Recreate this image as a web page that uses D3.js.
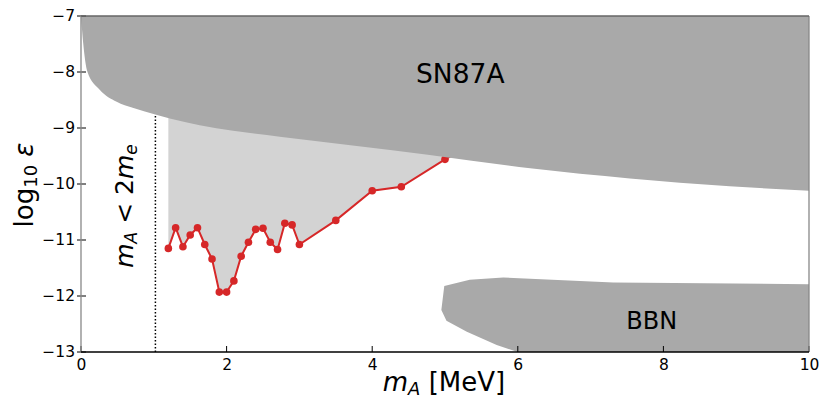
<!DOCTYPE html>
<html>
<head>
<meta charset="utf-8">
<script src="https://cdn.jsdelivr.net/npm/d3@7"></script>
<style>
  body { margin: 0; background: #fff; }
  svg { font-family: "DejaVu Sans", sans-serif; }
</style>
</head>
<body>
<svg id="chart" width="830" height="415"></svg>
<script>
// measured limit (red curve)
const massMeV = [1.2, 1.3, 1.4, 1.5, 1.6, 1.7, 1.8, 1.9, 2.0, 2.1, 2.2, 2.3, 2.4, 2.5, 2.6, 2.7, 2.8, 2.9, 3.0, 3.5, 4.0, 4.4, 5.0, 5.5];
const logEps = [-11.15, -10.78, -11.12, -10.91, -10.78, -11.08, -11.34, -11.93, -11.93, -11.73, -11.29, -11.04, -10.81, -10.79, -11.04, -11.17, -10.70, -10.73, -11.08, -10.65, -10.12, -10.05, -9.56, -9.2];

// SN87A lower boundary
const snMass = [0, 0.03, 0.087, 0.26, 0.49, 0.71, 1.02, 1.22, 1.63, 2.09, 2.73, 4.79, 6.17, 7.54, 8.91, 10];
const snLogEps = [-7, -7.48, -7.99, -8.32, -8.53, -8.64, -8.76, -8.83, -8.95, -9.05, -9.155, -9.48, -9.72, -9.90, -10.04, -10.12];

// BBN region outline
const bbnMass = [4.99, 5.34, 5.80, 7.31, 10, 10, 6.0, 5.71, 5.30, 5.02, 4.95];
const bbnLogEps = [-11.82, -11.71, -11.67, -11.76, -11.79, -13, -13, -12.875, -12.64, -12.44, -12.25];

const twoElectronMass = 1.022;
const xTicks = [0, 2, 4, 6, 8, 10];
const yTicks = [-7, -8, -9, -10, -11, -12, -13];

const margin = { top: 16, right: 21, bottom: 63, left: 81 };
const svg = d3.select('#chart');
const width = +svg.attr('width') - margin.left - margin.right;
const height = +svg.attr('height') - margin.top - margin.bottom;

const x = d3.scaleLinear().domain([0, 10]).range([0, width]);
const y = d3.scaleLinear().domain([-13, -7]).range([height, 0]);

svg.append('defs').append('clipPath').attr('id', 'plot-clip')
  .append('rect').attr('width', width).attr('height', height);

const chart = svg.append('g').attr('transform', `translate(${margin.left},${margin.top})`);
const plot = chart.append('g').attr('clip-path', 'url(#plot-clip)');

const limit = massMeV.map((m, i) => [m, logEps[i]]);
const sn = snMass.map((m, i) => [m, snLogEps[i]]);
const bbn = bbnMass.map((m, i) => [m, bbnLogEps[i]]);

// excluded area above the measured curve
plot.append('path')
  .datum(limit)
  .attr('fill', '#d3d3d3')
  .attr('d', d3.area().x(d => x(d[0])).y0(y(-7)).y1(d => y(d[1])));

plot.append('path')
  .datum(limit)
  .attr('fill', 'none')
  .attr('stroke', '#d62728')
  .attr('stroke-width', 2)
  .attr('d', d3.line().x(d => x(d[0])).y(d => y(d[1])));

plot.selectAll('circle.pt')
  .data(limit)
  .join('circle')
  .attr('class', 'pt')
  .attr('cx', d => x(d[0]))
  .attr('cy', d => y(d[1]))
  .attr('r', 3.8)
  .attr('fill', '#d62728');

// m_A = 2 m_e threshold
plot.append('line')
  .attr('x1', x(twoElectronMass)).attr('x2', x(twoElectronMass))
  .attr('y1', y(-13)).attr('y2', y(-7))
  .attr('stroke', '#000')
  .attr('stroke-width', 1.5)
  .attr('stroke-dasharray', '1.5,2');

plot.append('path')
  .datum(sn)
  .attr('fill', '#a9a9a9')
  .attr('d', d3.area().x(d => x(d[0])).y0(y(-7)).y1(d => y(d[1])).curve(d3.curveMonotoneX));

plot.append('path')
  .attr('fill', '#a9a9a9')
  .attr('d', d3.line().x(d => x(d[0])).y(d => y(d[1]))(bbn) + 'Z');

chart.append('text')
  .attr('x', x(5.21)).attr('y', y(-8.2))
  .attr('text-anchor', 'middle')
  .attr('font-size', 26.5)
  .text('SN87A');

chart.append('text')
  .attr('x', x(7.84)).attr('y', y(-12.59))
  .attr('text-anchor', 'middle')
  .attr('font-size', 24)
  .text('BBN');

// axes
const xAxis = chart.append('g')
  .attr('transform', `translate(0,${height})`)
  .call(d3.axisBottom(x).tickValues(xTicks).tickFormat(d3.format('d')).tickSize(0).tickPadding(7));
const yAxis = chart.append('g')
  .call(d3.axisLeft(y).tickValues(yTicks).tickFormat(d3.format('d')).tickSize(0).tickPadding(6));

[xAxis, yAxis].forEach(a => {
  a.select('.domain').remove();
  a.selectAll('text').attr('font-size', 15.5).attr('fill', '#000')
    .attr('font-family', '"DejaVu Sans", sans-serif');
});

chart.append('g').selectAll('line')
  .data(xTicks)
  .join('line')
  .attr('x1', d => x(d)).attr('x2', d => x(d))
  .attr('y1', height).attr('y2', height - 6)
  .attr('stroke', '#000');

chart.append('g').selectAll('line')
  .data(yTicks)
  .join('line')
  .attr('x1', -4).attr('x2', 5)
  .attr('y1', d => y(d)).attr('y2', d => y(d))
  .attr('stroke', '#000');

// spines
chart.append('line').attr('x1', 0).attr('x2', 0).attr('y1', 0).attr('y2', height)
  .attr('stroke', '#888').attr('stroke-width', 1.3);
chart.append('line').attr('x1', width).attr('x2', width).attr('y1', 0).attr('y2', height)
  .attr('stroke', '#888').attr('stroke-width', 1.3);
chart.append('line').attr('x1', 0).attr('x2', width).attr('y1', 0).attr('y2', 0)
  .attr('stroke', '#666').attr('stroke-width', 1.3);
chart.append('line').attr('x1', 0).attr('x2', width).attr('y1', height).attr('y2', height)
  .attr('stroke', '#000').attr('stroke-width', 1.3);

// axis titles
const xLabel = svg.append('text')
  .attr('x', 444).attr('y', 391)
  .attr('text-anchor', 'middle')
  .attr('font-size', 26);
xLabel.append('tspan').attr('font-style', 'italic').text('m');
xLabel.append('tspan').attr('font-style', 'italic').attr('font-size', 18).attr('dy', 4).text('A');
xLabel.append('tspan').attr('dy', -4).text(' [MeV]');

const yLabel = svg.append('text')
  .attr('transform', 'translate(33,185) rotate(-90)')
  .attr('text-anchor', 'middle')
  .attr('font-size', 26);
yLabel.append('tspan').text('log');
yLabel.append('tspan').attr('font-size', 18).attr('dy', 4).text('10');
yLabel.append('tspan').attr('dy', -4).text(' ');
yLabel.append('tspan').attr('font-style', 'italic').text('ε');

const thrLabel = svg.append('text')
  .attr('transform', 'translate(133,206) rotate(-90)')
  .attr('text-anchor', 'middle')
  .attr('font-size', 25);
thrLabel.append('tspan').attr('font-style', 'italic').text('m');
thrLabel.append('tspan').attr('font-style', 'italic').attr('font-size', 17).attr('dy', 4).text('A');
thrLabel.append('tspan').attr('dy', -4).text(' < 2');
thrLabel.append('tspan').attr('font-style', 'italic').text('m');
thrLabel.append('tspan').attr('font-style', 'italic').attr('font-size', 17).attr('dy', 4).text('e');
</script>
</body>
</html>
